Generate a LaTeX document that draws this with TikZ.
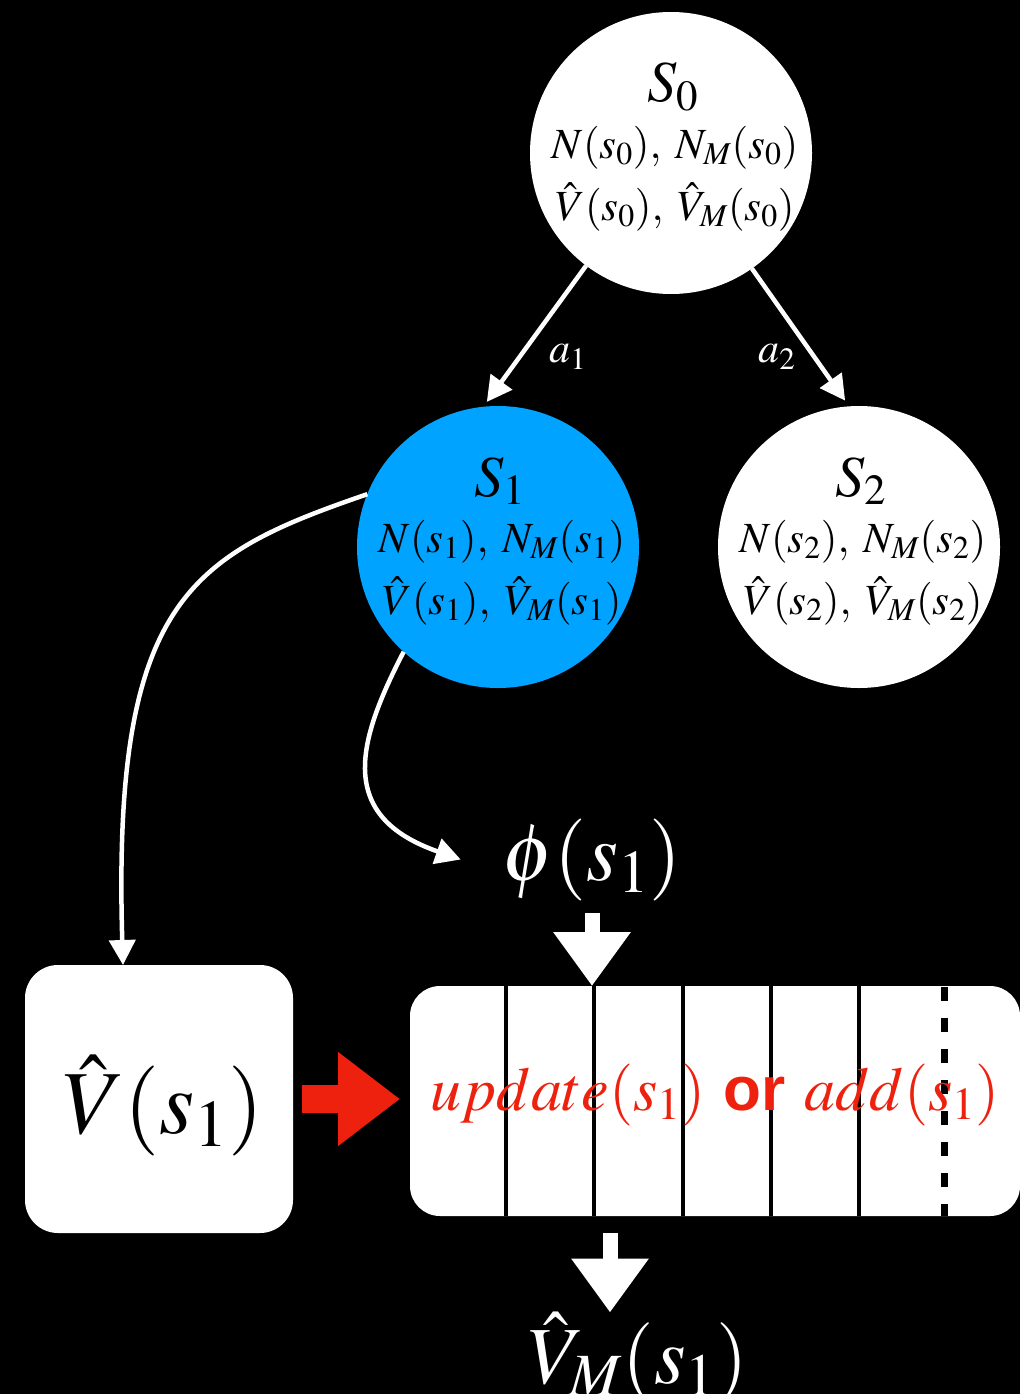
\documentclass[tikz,border=0pt]{standalone}
\usepackage{mathptmx}
\usepackage[no-math]{fontspec}
\newfontfamily\orfont{Liberation Sans}
\usetikzlibrary{arrows.meta,calc}
\definecolor{nodeblue}{RGB}{0,163,255}
\definecolor{memred}{RGB}{237,33,14}
\tikzset{
  statecircle/.style={circle, minimum size=282pt, inner sep=0pt, outer sep=0pt},
  bigline/.style={font=\fontsize{58}{60}\selectfont, inner sep=0pt, anchor=base},
  smallline/.style={font=\fontsize{43}{48}\selectfont, inner sep=0pt, anchor=base},
  conn/.style={draw=white, line width=4.5pt, -{Triangle[length=25pt,width=26pt]}},
  fatarrow/.style={draw=white, line width=15pt, -{Triangle[length=54pt,width=74pt]}},
  redarrow/.style={draw=memred, line width=28pt, -{Triangle[length=62pt,width=90pt]}},
  divider/.style={draw=black, line width=4pt},
  dashdivider/.style={draw=black, line width=7pt, dash pattern=on 14pt off 17pt},
  lab/.style={text=white, font=\fontsize{42}{48}\selectfont, inner sep=0pt},
  bigwhite/.style={text=white, inner sep=0pt, anchor=base},
  whitebox/.style={fill=white, inner sep=0pt, outer sep=0pt},
}
\begin{document}
\begin{tikzpicture}[x=1pt,y=-1pt]
\useasboundingbox (0,0) rectangle (1020,1394);
\fill[black] (0,0) rectangle (1020,1394);
% states
\node[statecircle, fill=white] (s0) at (671,153) {};
\node[statecircle, fill=nodeblue] (s1) at (498,547) {};
\node[statecircle, fill=white] (s2) at (859,547) {};
\foreach \n/\i in {s0/0,s1/1,s2/2}{
  \node[bigline] (\n-t1) at ($(\n)+(2,-51)$) {$S_{\i}$};
  \node[smallline] (\n-t2) at ($(\n)+(4,5)$) {$N(s_{\i}),\;N_M(s_{\i})$};
  \node[smallline] (\n-t3) at ($(\n)+(4,67)$) {$\hat{V}(s_{\i}),\;\hat{V}_M(s_{\i})$};
}
% action edges
\draw[conn, shorten >=6pt] (s0.233) -- (s1.96);
\draw[conn, shorten >=7pt] (s0.305) -- (s2.94);
\node[lab] (a1) at (568,357) {$a_1$};
\node[lab] (a2) at (777,357) {$a_2$};
% value box
\node[whitebox, rounded corners=33pt, minimum width=268pt, minimum height=268pt] (vbox) at (159,1099) {};
\node[anchor=base, inner sep=0pt, font=\fontsize{90}{96}\selectfont] (vtext) at (163,1133) {$\hat{V}(s_1)$};
% memory
\node[whitebox, rounded corners=30pt, minimum width=610pt, minimum height=230pt] (mem) at (715,1101) {};
\foreach \x in {506,594,683,771,859} \draw[divider] (\x,986) -- (\x,1216);
\draw[dashdivider] (944,987) -- (944,1216);
\node[anchor=base, text=memred, inner sep=0pt, font=\fontsize{62}{66}\selectfont] (memtext) at (715,1110) {$update(s_1)$ {\orfont\bfseries or} $add(s_1)$};
% phi and V_M
\node[bigwhite, font=\fontsize{82}{90}\selectfont] (phi) at (592,880) {$\phi(s_1)$};
\node[bigwhite, font=\fontsize{81}{90}\selectfont] (vm) at (638,1383) {$\hat{V}_M(s_1)$};
% curved connectors
\draw[conn] (s1.158) .. controls (190,555) and (112,600) .. ([xshift=-36pt]vbox.north);
\draw[conn] (s1.228) .. controls (357,742) and (336,816) .. ([xshift=-42pt]phi.west);
% fat arrows
\draw[fatarrow, shorten <=12pt] (phi.south) -- (phi.south |- mem.north);
\coordinate (m2) at ([xshift=-105pt,yshift=-17pt]mem.south);
\draw[fatarrow] (m2) -- (m2 |- vm.north);
\draw[redarrow, shorten <=9pt, shorten >=10pt] (vbox.east) -- (vbox.east -| mem.west);
\end{tikzpicture}
\end{document}
